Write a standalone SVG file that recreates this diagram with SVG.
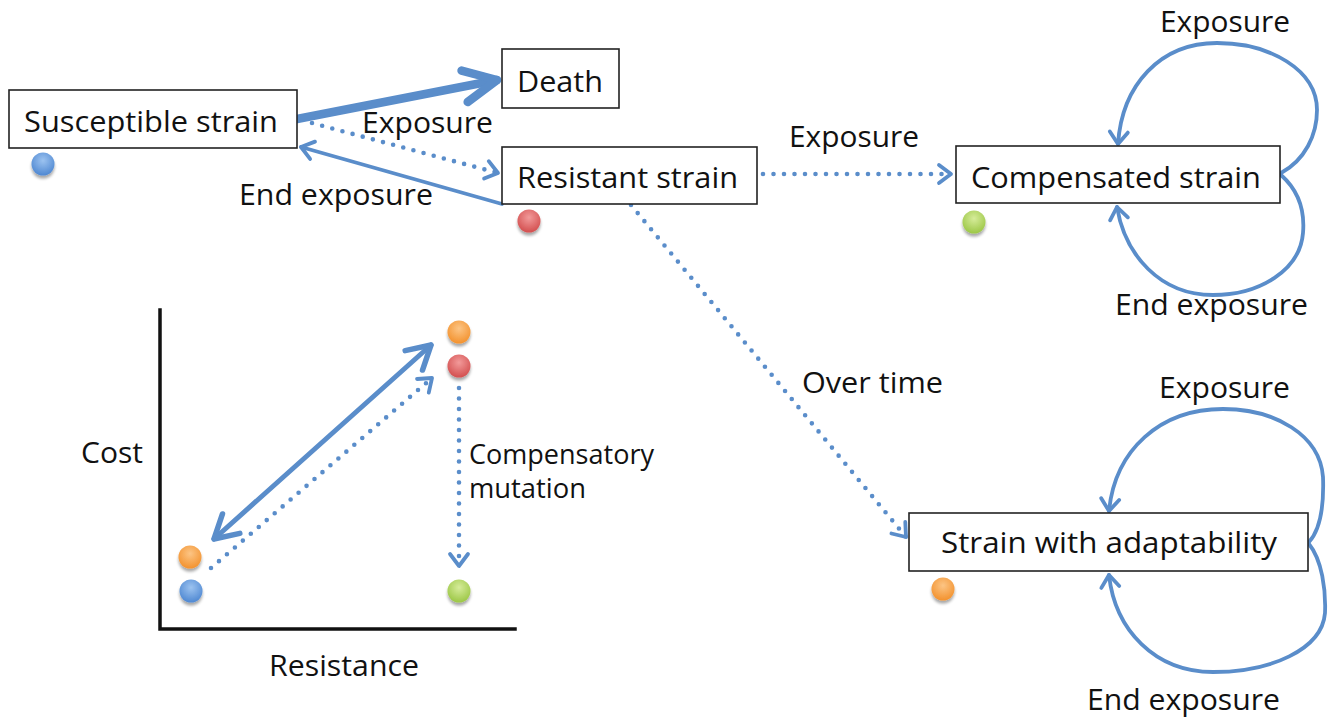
<svg xmlns="http://www.w3.org/2000/svg" width="1336" height="720" viewBox="0 0 1336 720">
<style>
  text { font-family: "Open Sans", "Liberation Sans", sans-serif; fill: #111; }
  .lbl { font-size: 30px; }
  .sm { font-size: 27px; }
  .box { fill: #fff; stroke: #222; stroke-width: 1.6; }
  .conn { fill: none; stroke: #5a8dca; stroke-linecap: round; stroke-linejoin: round; }
  .solid { stroke-width: 3.8; }
  .dot { stroke-width: 4.6; stroke-dasharray: 0 10.5; }
  .axis { fill: none; stroke: #111; stroke-width: 3.5; stroke-linecap: square; }
</style>
<defs>
  <marker id="ah" markerUnits="userSpaceOnUse" viewBox="-20 -15 25 30" markerWidth="25" markerHeight="30" refX="0" refY="0" orient="auto">
    <path d="M-12,-9 L0,0 L-12,9" fill="none" stroke="#5a8dca" stroke-width="3.8" stroke-linecap="round" stroke-linejoin="round"/>
  </marker>
  <marker id="ahBig" markerUnits="userSpaceOnUse" viewBox="-45 -25 55 50" markerWidth="55" markerHeight="50" refX="0" refY="0" orient="auto">
    <path d="M-33,-16 L0,0 L-33,16" fill="none" stroke="#5a8dca" stroke-width="8.5" stroke-linecap="round" stroke-linejoin="round"/>
  </marker>
  <marker id="ahMid" markerUnits="userSpaceOnUse" viewBox="-35 -20 45 40" markerWidth="45" markerHeight="40" refX="0" refY="0" orient="auto-start-reverse">
    <path d="M-23,-13 L0,0 L-23,13" fill="none" stroke="#5a8dca" stroke-width="5.5" stroke-linecap="round" stroke-linejoin="round"/>
  </marker>
  <radialGradient id="gBlue" cx="50%" cy="35%" r="65%">
    <stop offset="0" stop-color="#9cc3f0"/><stop offset="1" stop-color="#4f88d2"/>
  </radialGradient>
  <radialGradient id="gRed" cx="50%" cy="35%" r="65%">
    <stop offset="0" stop-color="#f29a9a"/><stop offset="1" stop-color="#d34f4f"/>
  </radialGradient>
  <radialGradient id="gGreen" cx="50%" cy="35%" r="65%">
    <stop offset="0" stop-color="#d6ec9a"/><stop offset="1" stop-color="#9cc746"/>
  </radialGradient>
  <radialGradient id="gOrange" cx="50%" cy="35%" r="65%">
    <stop offset="0" stop-color="#fcc585"/><stop offset="1" stop-color="#f3922e"/>
  </radialGradient>
  <filter id="sh" x="-50%" y="-50%" width="200%" height="220%">
    <feGaussianBlur in="SourceAlpha" stdDeviation="1.5"/>
    <feOffset dy="2.5" result="b"/>
    <feComponentTransfer><feFuncA type="linear" slope="0.35"/></feComponentTransfer>
    <feMerge><feMergeNode/><feMergeNode in="SourceGraphic"/></feMerge>
  </filter>
</defs>

<g id="connectors">
  <line class="conn" x1="297" y1="119" x2="497" y2="80" stroke-width="8.5" stroke-linecap="butt" marker-end="url(#ahBig)"/>
  <line class="conn dot" x1="312" y1="123" x2="498" y2="173" marker-end="url(#ah)"/>
  <line class="conn solid" x1="502" y1="204" x2="301" y2="147" marker-end="url(#ah)"/>
  <line class="conn dot" x1="763" y1="174" x2="951" y2="174" marker-end="url(#ah)"/>
  <line class="conn dot" x1="631" y1="205" x2="906" y2="537" marker-end="url(#ah)"/>
  <path class="conn solid" d="M1281,173 C1305,160 1317,135 1317,110 C1317,70 1270,43 1217,43 C1160,43 1122,85 1118,144" marker-end="url(#ah)"/>
  <path class="conn solid" d="M1281,175 C1298,190 1305,210 1303,233 C1300,270 1260,295 1213,295 C1160,295 1125,255 1117,207" marker-end="url(#ah)"/>
  <path class="conn solid" d="M1309,542 C1320,530 1324,505 1323,477 C1320,435 1275,409 1223,409 C1160,409 1115,450 1109,511" marker-end="url(#ah)"/>
  <path class="conn solid" d="M1309,544 C1322,560 1326,590 1325,613 C1322,650 1270,672 1213,672 C1155,672 1115,630 1109,575" marker-end="url(#ah)"/>
  <line class="conn" x1="214" y1="539" x2="431" y2="345" stroke-width="5" marker-start="url(#ahMid)" marker-end="url(#ahMid)"/>
  <line class="conn dot" x1="211" y1="568" x2="432" y2="378" marker-end="url(#ah)"/>
  <line class="conn dot" x1="459" y1="388" x2="459" y2="566" marker-end="url(#ah)"/>
</g>

<g id="connector-labels">
  <text class="lbl" x="362" y="133" textLength="131" lengthAdjust="spacingAndGlyphs">Exposure</text>
  <text class="lbl" x="239" y="205" textLength="194" lengthAdjust="spacingAndGlyphs">End exposure</text>
  <text class="lbl" x="789" y="147" textLength="130" lengthAdjust="spacingAndGlyphs">Exposure</text>
  <text class="lbl" x="1160" y="32" textLength="130" lengthAdjust="spacingAndGlyphs">Exposure</text>
  <text class="lbl" x="1115" y="315" textLength="193" lengthAdjust="spacingAndGlyphs">End exposure</text>
  <text class="lbl" x="802" y="393" textLength="141" lengthAdjust="spacingAndGlyphs">Over time</text>
  <text class="lbl" x="1159" y="398" textLength="131" lengthAdjust="spacingAndGlyphs">Exposure</text>
  <text class="lbl" x="1087" y="710" textLength="193" lengthAdjust="spacingAndGlyphs">End exposure</text>
</g>

<g id="node-susceptible">
  <rect class="box" x="9" y="90" width="288" height="58"/>
  <text class="lbl" x="24" y="132" textLength="254" lengthAdjust="spacingAndGlyphs">Susceptible strain</text>
  <circle cx="43" cy="164" r="11.5" fill="url(#gBlue)" filter="url(#sh)"/>
</g>

<g id="node-death">
  <rect class="box" x="502" y="49" width="117" height="59"/>
  <text class="lbl" x="517" y="92" textLength="86" lengthAdjust="spacingAndGlyphs">Death</text>
</g>

<g id="node-resistant">
  <rect class="box" x="502" y="147" width="255" height="57"/>
  <text class="lbl" x="517" y="188" textLength="221" lengthAdjust="spacingAndGlyphs">Resistant strain</text>
  <circle cx="529" cy="221" r="11.5" fill="url(#gRed)" filter="url(#sh)"/>
</g>

<g id="node-compensated">
  <rect class="box" x="956" y="146" width="324" height="57"/>
  <text class="lbl" x="971" y="188" textLength="290" lengthAdjust="spacingAndGlyphs">Compensated strain</text>
  <circle cx="974" cy="222" r="11.5" fill="url(#gGreen)" filter="url(#sh)"/>
</g>

<g id="node-adaptability">
  <rect class="box" x="909" y="513" width="399" height="58"/>
  <text class="lbl" x="941" y="553" textLength="336" lengthAdjust="spacingAndGlyphs">Strain with adaptability</text>
  <circle cx="943" cy="589" r="11.5" fill="url(#gOrange)" filter="url(#sh)"/>
</g>

<g id="plot">
  <polyline class="axis" points="160,310 160,629 515,629"/>
  <text class="lbl" x="81" y="463" textLength="62" lengthAdjust="spacingAndGlyphs">Cost</text>
  <text class="lbl" x="269" y="676" textLength="150" lengthAdjust="spacingAndGlyphs">Resistance</text>
  <text class="sm" x="469" y="464" textLength="185" lengthAdjust="spacingAndGlyphs">Compensatory</text>
  <text class="sm" x="469" y="498" textLength="117" lengthAdjust="spacingAndGlyphs">mutation</text>
  <circle cx="190" cy="557" r="11.5" fill="url(#gOrange)" filter="url(#sh)"/>
  <circle cx="191" cy="591" r="11.5" fill="url(#gBlue)" filter="url(#sh)"/>
  <circle cx="459" cy="332" r="11.5" fill="url(#gOrange)" filter="url(#sh)"/>
  <circle cx="459" cy="366" r="11.5" fill="url(#gRed)" filter="url(#sh)"/>
  <circle cx="459" cy="591" r="11.5" fill="url(#gGreen)" filter="url(#sh)"/>
</g>
</svg>
